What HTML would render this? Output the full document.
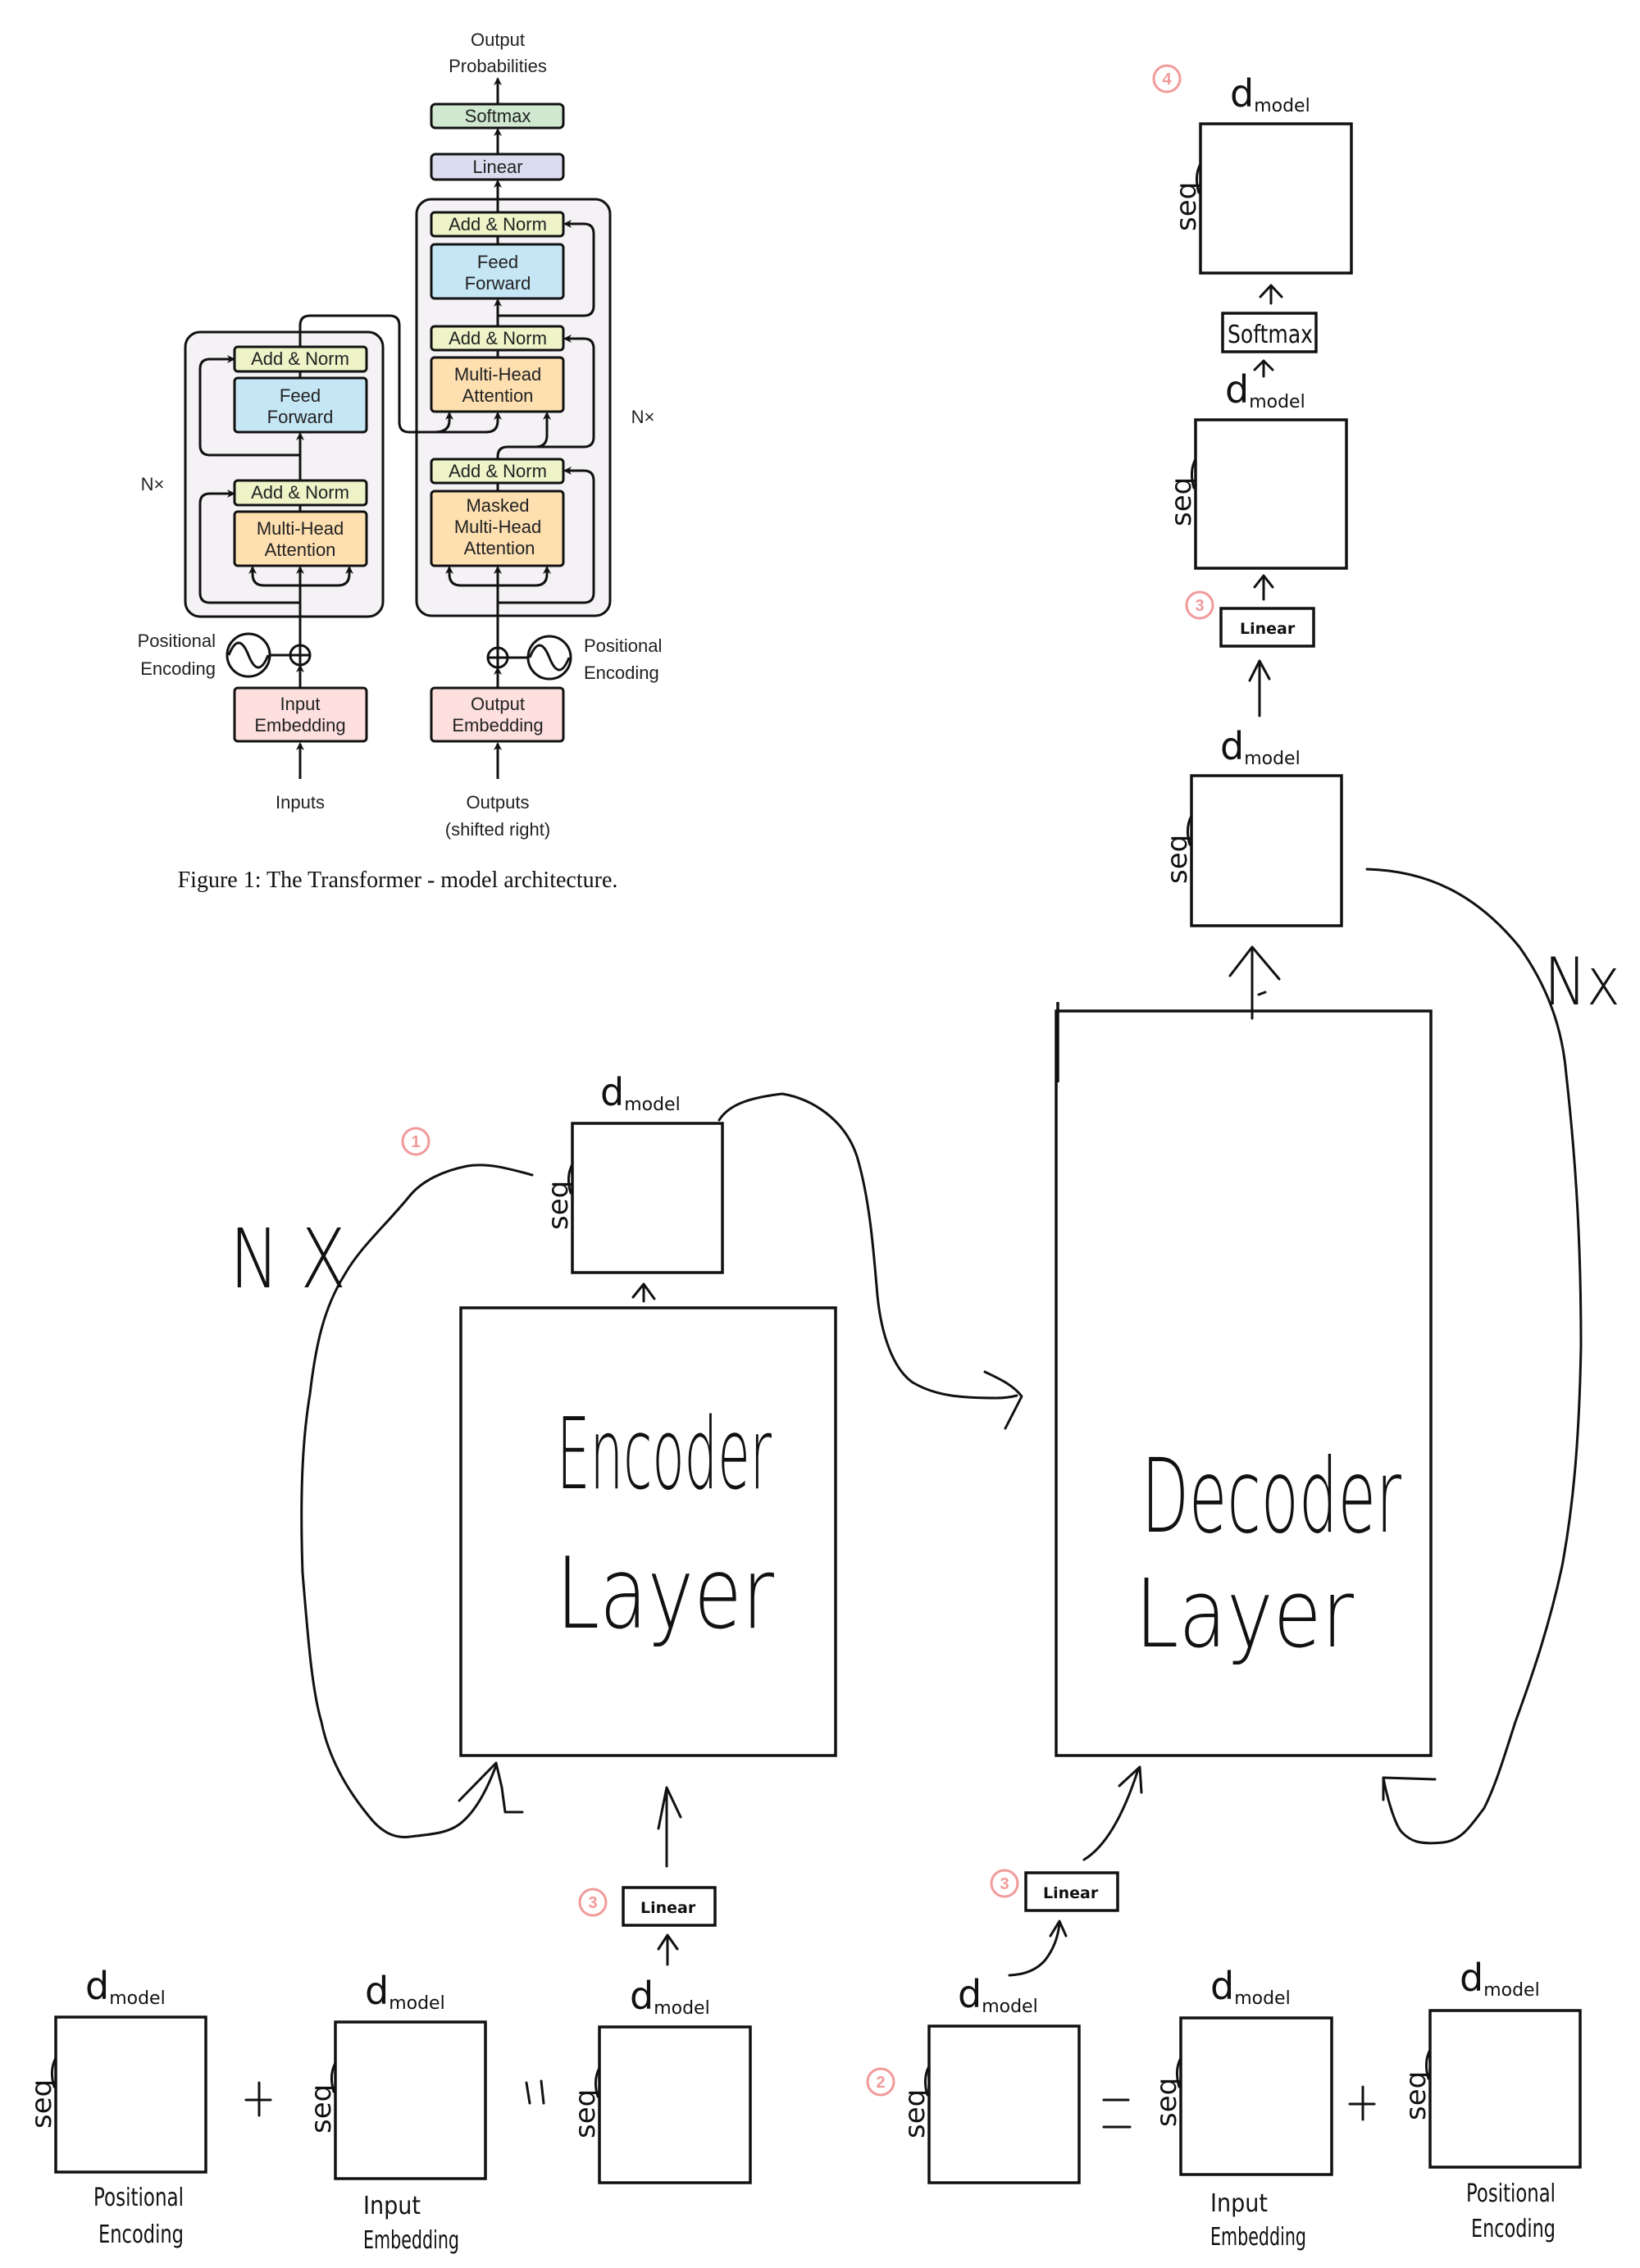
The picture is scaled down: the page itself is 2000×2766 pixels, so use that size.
<!DOCTYPE html>
<html><head><meta charset="utf-8"><style>
html,body{margin:0;padding:0;background:#fff;}
svg{display:block;}
.tf{font-family:"Liberation Sans",sans-serif;font-size:22px;fill:#222;text-anchor:middle;}
.hw{font-family:"DejaVu Sans ExtraLight","DejaVu Sans","Liberation Sans",sans-serif;font-weight:200;fill:#111;}
.b{stroke:#111;stroke-width:3.5;fill:none;}
.c{stroke:#111;stroke-width:3;fill:none;stroke-linecap:round;stroke-linejoin:round;}
.t{stroke:#111;stroke-width:3;fill:none;}
.bx{stroke:#111;stroke-width:3;}
.num{stroke:#f29a9a;stroke-width:3;fill:none;}
.numt{font-family:"Liberation Sans",sans-serif;font-size:20px;font-weight:bold;fill:#f29a9a;text-anchor:middle;}
</style></head><body>
<svg width="2000" height="2766" viewBox="0 0 2000 2766" xmlns="http://www.w3.org/2000/svg">
<defs>
<marker id="a" markerWidth="10" markerHeight="10" refX="8" refY="5" orient="auto" markerUnits="userSpaceOnUse">
<path d="M0,0 L10,5 L0,10 L3,5 Z" fill="#111"/></marker>
</defs>
<rect width="2000" height="2766" fill="#fff"/>

<!-- ===== Transformer figure ===== -->
<text class="tf" x="607" y="56" font-size="26">Output</text>
<text class="tf" x="607" y="88" font-size="26">Probabilities</text>
<rect x="226" y="405" width="241" height="347" rx="18" fill="#f5f2f6" class="bx" stroke-width="3.5"/>
<rect x="508" y="243" width="236" height="508" rx="18" fill="#f5f2f6" class="bx" stroke-width="3.5"/>

<rect x="526" y="127" width="161" height="29" rx="5" fill="#cfe8cf" class="bx"/><text class="tf" x="607" y="149">Softmax</text>
<rect x="526" y="188" width="161" height="31" rx="5" fill="#dcdcf0" class="bx"/><text class="tf" x="607" y="211">Linear</text>

<rect x="526" y="259" width="161" height="29" rx="4" fill="#eef3c8" class="bx"/><text class="tf" x="607" y="281">Add &amp; Norm</text>
<rect x="526" y="298" width="161" height="66" rx="4" fill="#c5e6f5" class="bx"/><text class="tf" x="607" y="327">Feed</text><text class="tf" x="607" y="353">Forward</text>
<rect x="526" y="398" width="161" height="29" rx="4" fill="#eef3c8" class="bx"/><text class="tf" x="607" y="420">Add &amp; Norm</text>
<rect x="526" y="436" width="161" height="66" rx="4" fill="#fddfb0" class="bx"/><text class="tf" x="607" y="464">Multi-Head</text><text class="tf" x="607" y="490">Attention</text>
<rect x="526" y="560" width="161" height="29" rx="4" fill="#eef3c8" class="bx"/><text class="tf" x="607" y="582">Add &amp; Norm</text>
<rect x="526" y="599" width="161" height="91" rx="4" fill="#fddfb0" class="bx"/><text class="tf" x="607" y="624">Masked</text><text class="tf" x="607" y="650">Multi-Head</text><text class="tf" x="609" y="676">Attention</text>

<rect x="286" y="423" width="161" height="30" rx="4" fill="#eef3c8" class="bx"/><text class="tf" x="366" y="445">Add &amp; Norm</text>
<rect x="286" y="461" width="161" height="66" rx="4" fill="#c5e6f5" class="bx"/><text class="tf" x="366" y="490">Feed</text><text class="tf" x="366" y="516">Forward</text>
<rect x="286" y="586" width="161" height="30" rx="4" fill="#eef3c8" class="bx"/><text class="tf" x="366" y="608">Add &amp; Norm</text>
<rect x="286" y="624" width="161" height="66" rx="4" fill="#fddfb0" class="bx"/><text class="tf" x="366" y="652">Multi-Head</text><text class="tf" x="366" y="678">Attention</text>

<rect x="286" y="839" width="161" height="65" rx="4" fill="#fde0de" class="bx"/><text class="tf" x="366" y="866">Input</text><text class="tf" x="366" y="892">Embedding</text>
<rect x="526" y="839" width="161" height="65" rx="4" fill="#fde0de" class="bx"/><text class="tf" x="607" y="866">Output</text><text class="tf" x="607" y="892">Embedding</text>

<text class="tf" x="186" y="598" font-size="25">N×</text>
<text class="tf" x="784" y="516" font-size="25">N×</text>
<text class="tf" x="263" y="789" font-size="26" style="text-anchor:end">Positional</text>
<text class="tf" x="263" y="823" font-size="26" style="text-anchor:end">Encoding</text>
<text class="tf" x="712" y="795" font-size="26" style="text-anchor:start">Positional</text>
<text class="tf" x="712" y="828" font-size="26" style="text-anchor:start">Encoding</text>
<text class="tf" x="366" y="986" font-size="26">Inputs</text>
<text class="tf" x="607" y="986" font-size="26">Outputs</text>
<text class="tf" x="607" y="1019" font-size="26">(shifted right)</text>
<text x="485" y="1082" font-family="Liberation Serif,serif" font-size="28" text-anchor="middle" fill="#111">Figure 1: The Transformer - model architecture.</text>

<!-- positional symbols -->
<circle cx="303" cy="799" r="26" class="t" fill="#fff"/>
<path d="M279,799 C287,779 295,779 303,799 C311,819 319,819 327,799" class="t" stroke-width="2.5"/>
<line x1="329" y1="799" x2="354" y2="799" class="t"/>
<circle cx="366" cy="799" r="12" class="t" fill="#fff"/><path d="M354,799 H378 M366,787 V811" class="t" stroke-width="2.5"/>
<circle cx="670" cy="802" r="26" class="t" fill="#fff"/>
<path d="M646,802 C654,782 662,782 670,802 C678,822 686,822 694,802" class="t" stroke-width="2.5"/>
<line x1="619" y1="802" x2="644" y2="802" class="t"/>
<circle cx="607" cy="802" r="12" class="t" fill="#fff"/><path d="M595,802 H619 M607,790 V814" class="t" stroke-width="2.5"/>

<!-- encoder connectors -->
<g class="t" stroke-linejoin="round">
<path d="M366,950 V907" marker-end="url(#a)"/>
<path d="M366,839 V812" marker-end="url(#a)"/>
<path d="M366,787 V692" marker-end="url(#a)"/>
<path d="M366,714 H322 Q308,714 308,700 V692" marker-end="url(#a)"/>
<path d="M366,714 H412 Q426,714 426,700 V692" marker-end="url(#a)"/>
<path d="M366,735 H256 Q244,735 244,723 V614 Q244,602 256,602 H285" marker-end="url(#a)"/>
<path d="M366,624 V616"/>
<path d="M366,586 V529" marker-end="url(#a)"/>
<path d="M366,555 H256 Q244,555 244,543 V450 Q244,438 256,438 H285" marker-end="url(#a)"/>
<path d="M366,461 V453"/>
<path d="M366,423 V397 Q366,385 378,385 H475 Q487,385 487,397 V515 Q487,527 499,527 H593 Q607,527 607,513 V504" marker-end="url(#a)"/>
<path d="M530,527 Q548,527 548,513 V504" marker-end="url(#a)"/>
<!-- decoder connectors -->
<path d="M607,950 V907" marker-end="url(#a)"/>
<path d="M607,839 V815" marker-end="url(#a)"/>
<path d="M607,790 V692" marker-end="url(#a)"/>
<path d="M607,714 H562 Q548,714 548,700 V692" marker-end="url(#a)"/>
<path d="M607,714 H653 Q667,714 667,700 V692" marker-end="url(#a)"/>
<path d="M607,735 H712 Q724,735 724,723 V586 Q724,574 712,574 H689" marker-end="url(#a)"/>
<path d="M607,599 V589"/>
<path d="M607,560 V557 Q607,545 619,545 H653 Q667,545 667,531 V504" marker-end="url(#a)"/>
<path d="M640,545 H712 Q724,545 724,533 V425 Q724,413 712,413 H689" marker-end="url(#a)"/>
<path d="M607,436 V427"/>
<path d="M607,398 V366" marker-end="url(#a)"/>
<path d="M607,385 H712 Q724,385 724,373 V285 Q724,273 712,273 H689" marker-end="url(#a)"/>
<path d="M607,298 V288"/>
<path d="M607,259 V221" marker-end="url(#a)"/>
<path d="M607,188 V158" marker-end="url(#a)"/>
<path d="M607,127 V96" marker-end="url(#a)"/>
</g>

<!-- ===== Hand-drawn ===== -->
<g class="b">
<rect x="1464" y="151" width="184" height="182"/>
<rect x="1491" y="382" width="114" height="47"/>
<rect x="1458" y="512" width="184" height="181"/>
<rect x="1489" y="742" width="113" height="46"/>
<rect x="1453" y="946" width="183" height="183"/>
<rect x="1288" y="1233" width="457" height="908"/>
<rect x="698" y="1370" width="183" height="182"/>
<rect x="562" y="1595" width="457" height="546"/>
<rect x="760" y="2302" width="112" height="46"/>
<rect x="1251" y="2284" width="112" height="46"/>
<rect x="68" y="2460" width="183" height="189"/>
<rect x="409" y="2466" width="183" height="191"/>
<rect x="731" y="2472" width="184" height="190"/>
<rect x="1133" y="2471" width="183" height="191"/>
<rect x="1440" y="2461" width="184" height="191"/>
<rect x="1744" y="2452" width="183" height="191"/>
</g>
<line x1="1290" y1="1222" x2="1290" y2="1320" class="b"/>

<!-- circled numbers -->
<g><circle cx="1423" cy="96" r="16" class="num"/><text class="numt" x="1423" y="103">4</text></g>
<g><circle cx="1463" cy="738" r="16" class="num"/><text class="numt" x="1463" y="745">3</text></g>
<g><circle cx="507" cy="1392" r="16" class="num"/><text class="numt" x="507" y="1399">1</text></g>
<g><circle cx="723" cy="2320" r="16" class="num"/><text class="numt" x="723" y="2327">3</text></g>
<g><circle cx="1225" cy="2297" r="16" class="num"/><text class="numt" x="1225" y="2304">3</text></g>
<g><circle cx="1074" cy="2539" r="16" class="num"/><text class="numt" x="1074" y="2546">2</text></g>

<!-- box labels -->
<g class="hw" style="font-weight:normal" font-family="Liberation Sans,sans-serif">
<text x="1497" y="418" font-size="30" textLength="104" lengthAdjust="spacingAndGlyphs">Softmax</text>
<text x="1512" y="773" font-size="19" font-weight="bold" style="font-weight:bold">Linear</text>
<text x="781" y="2333" font-size="19" style="font-weight:bold">Linear</text>
<text x="1272" y="2315" font-size="19" style="font-weight:bold">Linear</text>
</g>

<!-- dmodel labels -->
<g class="hw" style="font-weight:normal">
<text x="1500" y="130" font-size="46">d<tspan font-size="22" dy="6">model</tspan></text>
<text x="1494" y="491" font-size="46">d<tspan font-size="22" dy="6">model</tspan></text>
<text x="1488" y="926" font-size="46">d<tspan font-size="22" dy="6">model</tspan></text>
<text x="732" y="1348" font-size="46">d<tspan font-size="22" dy="6">model</tspan></text>
<text x="104" y="2438" font-size="46">d<tspan font-size="22" dy="6">model</tspan></text>
<text x="445" y="2444" font-size="46">d<tspan font-size="22" dy="6">model</tspan></text>
<text x="768" y="2450" font-size="46">d<tspan font-size="22" dy="6">model</tspan></text>
<text x="1168" y="2448" font-size="46">d<tspan font-size="22" dy="6">model</tspan></text>
<text x="1476" y="2438" font-size="46">d<tspan font-size="22" dy="6">model</tspan></text>
<text x="1780" y="2428" font-size="46">d<tspan font-size="22" dy="6">model</tspan></text>
</g>
<!-- seq labels -->
<g class="hw" font-size="34" style="font-weight:normal">
<text transform="translate(1458,282) rotate(-90)">seq</text>
<text transform="translate(1452,642) rotate(-90)">seq</text>
<text transform="translate(1447,1078) rotate(-90)">seq</text>
<text transform="translate(692,1500) rotate(-90)">seq</text>
<text transform="translate(62,2596) rotate(-90)">seq</text>
<text transform="translate(403,2602) rotate(-90)">seq</text>
<text transform="translate(725,2608) rotate(-90)">seq</text>
<text transform="translate(1127,2608) rotate(-90)">seq</text>
<text transform="translate(1434,2594) rotate(-90)">seq</text>
<text transform="translate(1738,2586) rotate(-90)">seq</text>
</g>
<g class="c" stroke-width="2.5">
<path d="M1464,200 Q1456,215 1462,235"/><path d="M1458,560 Q1450,575 1456,595"/><path d="M1453,995 Q1445,1010 1451,1030"/>
<path d="M698,1420 Q690,1435 696,1455"/><path d="M68,2510 Q60,2525 66,2545"/><path d="M409,2516 Q401,2531 407,2551"/>
<path d="M731,2522 Q723,2537 729,2557"/><path d="M1133,2520 Q1125,2535 1131,2555"/><path d="M1440,2510 Q1432,2525 1438,2545"/><path d="M1744,2500 Q1736,2515 1742,2535"/>
</g>

<!-- big labels -->
<g class="hw">
<text x="679" y="1815" font-size="120" textLength="262" lengthAdjust="spacingAndGlyphs">Encoder</text>
<text x="678" y="1985" font-size="120" textLength="266" lengthAdjust="spacingAndGlyphs">Layer</text>
<text x="1392" y="1868" font-size="125" textLength="317" lengthAdjust="spacingAndGlyphs">Decoder</text>
<text x="1384" y="2008" font-size="115" textLength="267" lengthAdjust="spacingAndGlyphs">Layer</text>
<text x="280" y="1570" font-size="100" textLength="142" lengthAdjust="spacingAndGlyphs">N X</text>
<text x="1883" y="1225" font-size="80" textLength="93" lengthAdjust="spacingAndGlyphs">Nx</text>
</g>
<!-- bottom captions -->
<g class="hw" font-size="30" style="font-weight:normal">
<text x="114" y="2690" textLength="110" lengthAdjust="spacingAndGlyphs">Positional</text>
<text x="120" y="2735" textLength="104" lengthAdjust="spacingAndGlyphs">Encoding</text>
<text x="443" y="2700" textLength="70" lengthAdjust="spacingAndGlyphs">Input</text>
<text x="443" y="2742" textLength="117" lengthAdjust="spacingAndGlyphs">Embedding</text>
<text x="1476" y="2697" textLength="70" lengthAdjust="spacingAndGlyphs">Input</text>
<text x="1476" y="2738" textLength="117" lengthAdjust="spacingAndGlyphs">Embedding</text>
<text x="1788" y="2685" textLength="109" lengthAdjust="spacingAndGlyphs">Positional</text>
<text x="1794" y="2728" textLength="103" lengthAdjust="spacingAndGlyphs">Encoding</text>
</g>
<!-- operators -->
<g class="c" stroke-width="3.5">
<path d="M300,2561 H330 M316,2540 V2580"/>
<path d="M642,2540 L646,2565 M660,2538 L663,2565"/>
<path d="M1346,2561 H1376 M1346,2594 H1378"/>
<path d="M1646,2566 H1676 M1662,2545 V2585"/>
</g>

<!-- arrows and curves -->
<g class="c">
<path d="M1550,370 V350 M1537,362 L1550,348 L1563,362"/>
<path d="M1541,459 V441 M1530,451 L1541,440 L1552,451"/>
<path d="M1541,731 V703 M1530,716 L1541,702 L1552,716"/>
<path d="M1536,873 V808 M1524,830 L1536,806 L1548,828"/>
<path d="M1527,1242 V1158 M1500,1190 L1527,1155 L1560,1194 M1535,1213 L1543,1210"/>
<path d="M785,1587 V1568 M772,1582 L785,1566 L798,1584"/>
<path d="M813,2276 V2182 M803,2230 L813,2180 L830,2216"/>
<path d="M814,2396 V2362 M803,2377 L814,2360 L826,2377"/>
<path d="M1231,2409 Q1260,2408 1275,2390 Q1290,2370 1292,2345 M1281,2361 L1292,2343 L1300,2361"/>
<path d="M1322,2268 Q1360,2245 1388,2158 M1365,2178 L1390,2155 L1392,2186"/>
<path d="M649,1433 C620,1425 595,1418 570,1422 C540,1428 515,1440 500,1458 C470,1495 440,1520 420,1555 C395,1595 385,1640 378,1700 C368,1760 366,1830 369,1918 C375,1990 380,2060 392,2100 C400,2140 420,2180 454,2220 C470,2238 485,2242 500,2240 C525,2237 545,2236 560,2225 C580,2210 595,2180 605,2153"/>
<path d="M560,2196 L605,2150 L612,2180 L616,2210 L637,2210"/>
<path d="M877,1366 C890,1345 920,1338 954,1334 C990,1340 1030,1365 1045,1410 C1060,1460 1065,1520 1070,1580 C1075,1630 1090,1670 1113,1686 C1140,1702 1170,1705 1215,1705 C1225,1705 1232,1704 1240,1702"/>
<path d="M1201,1673 C1215,1680 1235,1688 1246,1703 L1226,1742"/>
<path d="M1667,1060 C1740,1062 1800,1090 1853,1155 C1885,1200 1905,1250 1910,1310 C1920,1400 1928,1500 1928,1640 C1926,1760 1918,1840 1905,1910 C1890,1980 1870,2040 1848,2100 C1835,2140 1825,2175 1810,2205 C1790,2232 1780,2245 1760,2247 C1730,2250 1720,2245 1710,2235 C1700,2225 1690,2185 1687,2168"/>
<path d="M1687,2195 L1687,2168 L1750,2170"/>
</g>
</svg>
</body></html>
